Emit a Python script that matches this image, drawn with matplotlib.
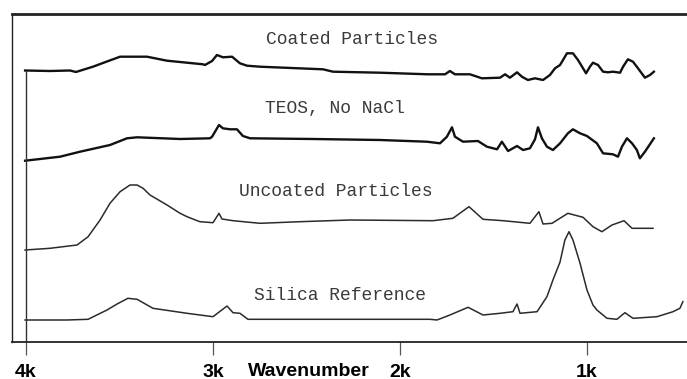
import numpy as np
import matplotlib
matplotlib.use("Agg")
import matplotlib.pyplot as plt

# IR spectra, wavenumber in cm^-1, heights in arbitrary absorbance units
coated_wn = [4005, 3872, 3765, 3733, 3642, 3560, 3497, 3353, 3246, 3123, 3053,
             3043, 3005, 2979, 2947, 2898, 2856, 2818, 2749, 2412, 2358,
             2107, 1850, 1759, 1733, 1706, 1626, 1562, 1465, 1438, 1412,
             1374, 1348, 1316, 1278, 1235, 1198, 1171, 1144, 1107, 1075,
             1048, 1021, 1005, 984, 968, 941, 914, 888, 861, 823,
             807, 781, 754, 727, 690, 663, 642]
coated_abs = [0, -0.5, 0, -1.5, 3.8, 9.5, 13.8, 13.8, 9.8, 7.5, 6.2,
              5.5, 9.5, 15.5, 13.2, 13.8, 7.2, 4.8, 3.8, 1.2, -1.2,
              -2.2, -3.8, -3.8, -0.5, -3.8, -3.8, -7.8, -7.2, -3.8, -7.2,
              -1.8, -6.2, -9.5, -7.8, -9.5, -4.5, 2.2, 5.5, 17.2, 17.2,
              10.5, 2.2, -2.8, 3.8, 7.8, 5.5, -1.2, -1.8, -1.2, -2.2,
              3.8, 11.2, 8.8, 2.2, -7.2, -4.5, -1.2]

teos_wn = [4005, 3818, 3711, 3551, 3460, 3406, 3176, 3016, 3005, 2968,
           2947, 2909, 2872, 2840, 2802, 2465, 2107, 1856, 1786, 1749,
           1722, 1706, 1663, 1583, 1535, 1481, 1455, 1422, 1374, 1342,
           1305, 1278, 1262, 1241, 1214, 1182, 1144, 1102, 1075, 1037,
           1000, 947, 914, 861, 834, 813, 786, 759, 733, 717,
           690, 642]
teos_abs = [0, 4, 9, 15.7, 22.4, 23.4, 21.7, 22.4, 24, 35.7,
            32.4, 31.4, 31.4, 24.7, 22.4, 21.7, 20.7, 19, 17.4, 24,
            33.4, 24, 19, 19.7, 14, 11.4, 19, 9.7, 14.7, 10.7,
            12.4, 21.4, 33.4, 22.4, 14, 10.7, 17.4, 27.4, 31.4, 27.4,
            24.7, 17.4, 7.4, 6.4, 4, 14, 22.4, 17.4, 10.7, 2.4,
            9, 22.4]

uncoated_wn = [4005, 3872, 3727, 3668, 3604, 3551, 3497, 3444, 3406, 3374,
               3337, 3246, 3176, 3139, 3070, 3000, 2968, 2952, 2893, 2749,
               2535, 2267, 1823, 1717, 1631, 1556, 1449, 1305, 1257, 1235,
               1187, 1102, 1021, 968, 920, 866, 802, 759, 647]
uncoated_abs = [0, 1.7, 5, 13.3, 30, 46.7, 58.3, 65, 65, 61.7,
                55, 45, 36.7, 33.3, 28.3, 27.3, 36.7, 31, 29.3, 26.7,
                28.3, 30, 29.3, 31.7, 43.3, 30.7, 29.3, 26.7, 38.3, 26,
                26.7, 36.7, 32.7, 23.3, 18.3, 25, 29.3, 21.7, 21.7]

silica_wn = [4005, 3781, 3668, 3567, 3513, 3455, 3406, 3321, 3139, 3000,
             2925, 2893, 2856, 2813, 2267, 1840, 1802, 1733, 1636, 1556,
             1465, 1396, 1374, 1358, 1267, 1214, 1182, 1144, 1118, 1096,
             1075, 1064, 1037, 1000, 968, 947, 893, 840, 797, 754,
             626, 540, 503, 487]
silica_abs = [0, 0, 0.7, 10, 16, 21.7, 20.7, 11.7, 6.7, 3.3,
              14, 7.3, 6.7, 0.7, 0.7, 0.7, 0, 5, 12.7, 5,
              6.7, 8.3, 16, 6.7, 8.3, 23.3, 40, 58, 80, 88.3,
              80, 73.3, 56.7, 30, 15, 10, 1.7, 0.7, 7.3, 1.7,
              3.3, 8.3, 11.7, 18.3]

names = ["Coated Particles", "TEOS, No NaCl", "Uncoated Particles", "Silica Reference"]
tick_pos = [4000, 3000, 2000, 1000]
tick_labels = ["4k", "3k", "2k", "1k"]

# vertical stacking of the spectra
offsets = [271.5, 181.3, 92, 22]

spectra = [(coated_wn, coated_abs), (teos_wn, teos_abs),
           (uncoated_wn, uncoated_abs), (silica_wn, silica_abs)]
widths = [1.7, 1.7, 1.1, 1.1]
colors = ["#111111", "#111111", "#2b2b2b", "#2b2b2b"]
label_at = [(2257, 302), (2348, 234), (2342, 150), (2321, 47)]

fig = plt.figure(figsize=(6.87, 3.79), dpi=100)
ax = fig.add_axes([12 / 687, 37 / 379, 675 / 687, 328 / 379])

for (wn, a), off, lw, c in zip(spectra, offsets, widths, colors):
    ax.plot(wn, np.array(a) + off, color=c, lw=lw, solid_joinstyle="round")

for name, (lx, ly) in zip(names, label_at):
    ax.text(lx, ly, name, family="Liberation Mono", fontsize=13,
            color="#3a3a3a", ha="center", va="center")

# line marking the start of the scan
ax.plot([4000, 4000], [0, offsets[0]], color="#333333", lw=1.0)

ax.set_xlim(4075, 465)
ax.set_ylim(0, 328)
ax.set_yticks([])
ax.set_xticks(tick_pos, tick_labels)
ax.tick_params(axis="x", direction="out", length=9.5, width=0.9, color="#555555",
               pad=6)
for lbl in ax.get_xticklabels():
    lbl.set_fontfamily("Liberation Sans")
    lbl.set_fontweight("bold")
    lbl.set_fontsize(14)

ax.text(2490, -30 / 328, "Wavenumber", transform=ax.get_xaxis_transform(),
        family="Liberation Sans", fontweight="bold", fontsize=14,
        ha="center", va="center")

ax.spines["right"].set_visible(False)
ax.spines["top"].set_linewidth(2.0)
ax.spines["left"].set_linewidth(1.0)
ax.spines["bottom"].set_linewidth(1.3)
for s in ax.spines.values():
    s.set_color("#222222")

fig.savefig("out.png", dpi=100)
